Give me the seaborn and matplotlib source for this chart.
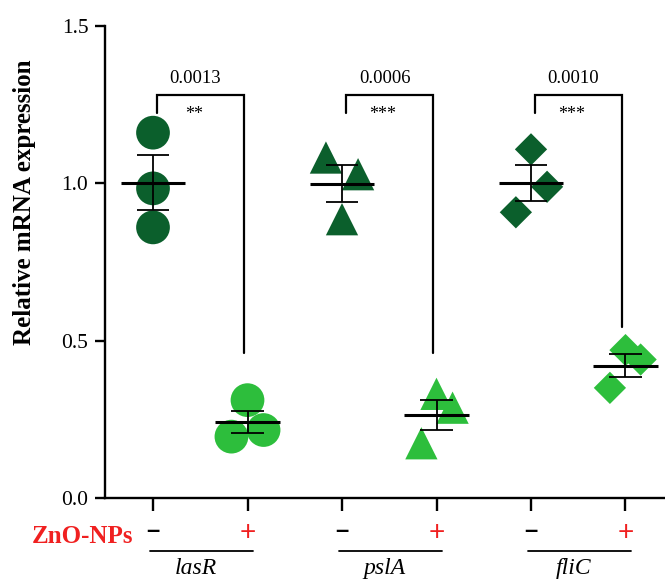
import numpy as np
import pandas as pd
import matplotlib
matplotlib.use("Agg")
import matplotlib.pyplot as plt
import seaborn as sns

# ---------------- data ----------------
genes = ["lasR", "pslA", "fliC"]
treatments = ["-", "+"]
lasR_ctrl = [1.161, 0.984, 0.860]
lasR_zno = [0.311, 0.195, 0.216]
pslA_ctrl = [1.082, 1.029, 0.886]
pslA_zno = [0.331, 0.287, 0.174]
fliC_ctrl = [1.108, 0.989, 0.908]
fliC_zno = [0.470, 0.440, 0.350]
p_values = ["0.0013", "0.0006", "0.0010"]
stars = ["**", "***", "***"]
y_ticks = [0.0, 0.5, 1.0, 1.5]
y_tick_labels = ["0.0", "0.5", "1.0", "1.5"]
ylabel = "Relative mRNA expression"
treat_label = "ZnO-NPs"

# ---------------- style ----------------
jitter = {
    ("lasR", "-"): [0.0, 0.0, 0.0],
    ("lasR", "+"): [0.0, -0.17, 0.17],
    ("pslA", "-"): [-0.17, 0.17, 0.0],
    ("pslA", "+"): [0.0, 0.17, -0.16],
    ("fliC", "-"): [0.0, 0.17, -0.16],
    ("fliC", "+"): [0.0, 0.16, -0.165],
}
markers = {"lasR": "o", "pslA": "^", "fliC": "D"}
msizes = {"lasR": 590, "pslA": 540, "fliC": 270}
palette = {"-": "#0B5F2C", "+": "#2DBE3C"}
bracket_right_end = [0.46, 0.46, 0.545]

values = {
    ("lasR", "-"): lasR_ctrl, ("lasR", "+"): lasR_zno,
    ("pslA", "-"): pslA_ctrl, ("pslA", "+"): pslA_zno,
    ("fliC", "-"): fliC_ctrl, ("fliC", "+"): fliC_zno,
}

rows = []
for gi, g in enumerate(genes):
    for ti, t in enumerate(treatments):
        pos = 2 * gi + ti
        for v, j in zip(values[(g, t)], jitter[(g, t)]):
            rows.append({"gene": g, "treatment": t, "value": v, "pos": pos, "x": pos + j})
df = pd.DataFrame(rows)

sns.set_theme(style="ticks", rc={"axes.edgecolor": "black", "xtick.color": "black",
                                 "ytick.color": "black", "text.color": "black",
                                 "axes.labelcolor": "black"})
plt.rcParams["font.family"] = ["Liberation Serif", "DejaVu Serif"]
plt.rcParams["axes.linewidth"] = 1.7

fig = plt.figure(figsize=(6.65, 5.81), dpi=100)
ax = fig.add_axes([105 / 665, 83 / 581, 560 / 665, 472 / 581])

for g in genes:
    sub = df[df.gene == g]
    sns.scatterplot(data=sub, x="x", y="value", hue="treatment", palette=palette,
                    marker=markers[g], s=msizes[g], edgecolor="none", linewidth=0,
                    legend=False, ax=ax, zorder=2, clip_on=False)

# mean +- SEM
stats = df.groupby(["gene", "treatment", "pos"])["value"].agg(["mean", "sem"]).reset_index()
for _, r in stats.iterrows():
    p, m, s = r["pos"], r["mean"], r["sem"]
    ax.hlines(m, p - 0.34, p + 0.34, color="black", lw=2.2, zorder=3)
    ax.vlines(p, m - s, m + s, color="black", lw=1.3, zorder=3)
    ax.hlines([m - s, m + s], p - 0.17, p + 0.17, color="black", lw=1.3, zorder=3)

# significance brackets
for gi, g in enumerate(genes):
    x0 = 2 * gi
    ax.plot([x0 + 0.04, x0 + 0.04, x0 + 0.96, x0 + 0.96],
            [1.222, 1.282, 1.282, bracket_right_end[gi]],
            color="black", lw=1.6, solid_joinstyle="miter", zorder=3, clip_on=False)
    ax.text(x0 + 0.45, 1.333, p_values[gi], ha="center", va="center", fontsize=13.5)
    ax.text(x0 + 0.43, 1.218, stars[gi], ha="center", va="center", fontsize=13)

ax.set_xlim(-0.508, 5.418)
ax.set_ylim(0, 1.5)
ax.set_yticks(y_ticks)
ax.set_yticklabels(y_tick_labels, fontsize=15.5)
ax.set_xticks(range(6))
ax.set_xticklabels([""] * 6)
ax.tick_params(axis="y", length=7, width=1.7, pad=5)
ax.tick_params(axis="x", length=9, width=1.7)
ax.set_xlabel("")
ax.set_ylabel("")
sns.despine(ax=ax)

fig.text(25 / 665, 1 - 202 / 581, ylabel, rotation=90, ha="center", va="center",
         fontsize=18, fontweight="bold")

# bottom labels
ax.text(-0.21, -0.122, treat_label, ha="right", va="center", fontsize=18,
        fontweight="bold", color="#F02020", clip_on=False)
for gi, g in enumerate(genes):
    x0 = 2 * gi
    ax.text(x0, -0.104, "\u2013", ha="center", va="center", fontsize=17,
            fontweight="heavy", color="black", family="Liberation Sans", clip_on=False)
    ax.text(x0 + 1, -0.112, "+", ha="center", va="center", fontsize=20,
            color="#F02020", family="Liberation Sans", clip_on=False)
    ax.plot([x0 - 0.03, x0 + 1.06], [-0.168, -0.168], color="black", lw=1.3,
            clip_on=False)
    ax.text(x0 + 0.45, -0.224, g, ha="center", va="center", fontsize=17,
            fontstyle="italic", clip_on=False)

fig.savefig("out.png", dpi=100)
